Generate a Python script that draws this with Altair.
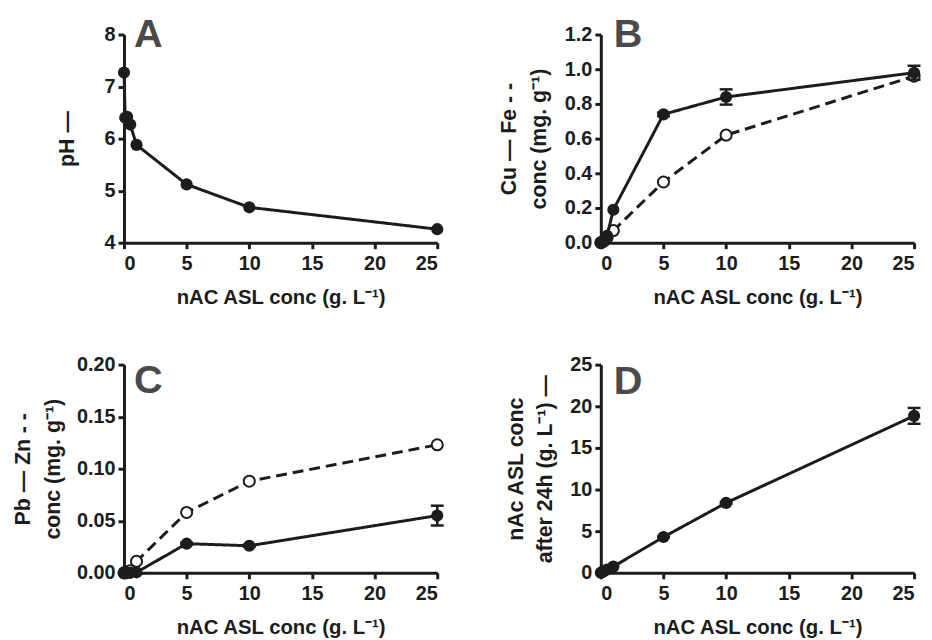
import altair as alt
import pandas as pd

# ---- data ----
conc = [0, 0.1, 0.25, 0.5, 1, 5, 10, 25]

ph = [7.27, 6.40, 6.42, 6.27, 5.88, 5.12, 4.68, 4.26]

cu = [0, 0.005, 0.01, 0.04, 0.19, 0.74, 0.84, 0.98]
cu_err = [0, 0, 0, 0, 0, 0.01, 0.044, 0.04]
fe = [0, 0.003, 0.01, 0.03, 0.07, 0.35, 0.62, 0.96]
fe_err = [0, 0, 0, 0, 0, 0, 0, 0]

pb = [0, 0, 0, 0, 0.0005, 0.028, 0.026, 0.055]
pb_err = [0, 0, 0, 0, 0, 0.001, 0.001, 0.0095]
zn = [0, 0, 0.001, 0.002, 0.011, 0.058, 0.088, 0.123]
zn_err = [0, 0, 0, 0, 0, 0, 0, 0]

nac = [0, 0.08, 0.2, 0.4, 0.75, 4.3, 8.4, 18.85]
nac_err = [0, 0, 0, 0, 0, 0.05, 0.1, 0.95]

x_ticks = [0, 5, 10, 15, 20, 25]
x_title = "nAC ASL conc (g. L\u207b\u00b9)"

INK = "#1c1c1c"
FONT = "Liberation Sans"
W, H = 316, 210


def series_layers(vals, errs, X, Y, open_marker, dashed):
    df = pd.DataFrame({"x": conc, "y": vals, "e": errs if errs else [0] * len(vals)})
    df["lo"] = df["y"] - df["e"]
    df["hi"] = df["y"] + df["e"]
    base = alt.Chart(df)
    line = base.mark_line(color=INK, strokeWidth=3,
                          strokeDash=[11, 6] if dashed else [1, 0]).encode(x=X("x"), y=Y("y"))
    layers = [line]
    if errs and any(e > 0 for e in errs):
        edf = base.transform_filter("datum.e > 0")
        rule = edf.mark_rule(color=INK, strokeWidth=2.5, opacity=1).encode(
            x=X("x"), y=Y("lo"), y2="hi:Q")
        cap_lo = edf.mark_tick(color=INK, thickness=2.5, size=13, opacity=1,
                               orient="horizontal").encode(x=X("x"), y=Y("lo"))
        cap_hi = edf.mark_tick(color=INK, thickness=2.5, size=13, opacity=1,
                               orient="horizontal").encode(x=X("x"), y=Y("hi"))
        layers += [rule, cap_lo, cap_hi]
    if open_marker:
        pts = base.mark_point(shape="circle", size=125, filled=True, fill="white",
                              stroke=INK, strokeWidth=2, opacity=1).encode(x=X("x"), y=Y("y"))
    else:
        pts = base.mark_point(shape="circle", size=150, filled=True, color=INK,
                              opacity=1).encode(x=X("x"), y=Y("y"))
    layers.append(pts)
    return layers


def letter(txt, dx, dy):
    return alt.Chart(pd.DataFrame({"t": [txt]})).mark_text(
        font=FONT, fontWeight="bold", fontSize=40, color="#4a4a4a",
        align="left", baseline="alphabetic").encode(
        text="t:N", x=alt.value(dx), y=alt.value(dy))


def panel(series, ytitle, ydomain, yticks, yfmt, lab, dx, dy, tpad=12):
    def X(f):
        return alt.X(f + ":Q", scale=alt.Scale(domain=[0, 25], nice=False),
                     axis=alt.Axis(values=x_ticks, title=x_title))

    def Y(f):
        return alt.Y(f + ":Q", scale=alt.Scale(domain=ydomain, nice=False),
                     axis=alt.Axis(values=yticks, format=yfmt, title=ytitle,
                                   titlePadding=tpad))
    layers = []
    for vals, errs, open_m, dashed in series:
        layers += series_layers(vals, errs, X, Y, open_m, dashed)
    layers.append(letter(lab, dx, dy))
    return alt.layer(*layers).properties(width=W, height=H)


pA = panel([(ph, None, False, False)], "pH \u2014", [4, 8], [4, 5, 6, 7, 8], "d",
           "A", 10, 13, tpad=26)
pB = panel([(fe, fe_err, True, True), (cu, cu_err, False, False)],
           ["Cu \u2014 Fe - -", "conc (mg. g\u207b\u00b9)"], [0, 1.2],
           [0, 0.2, 0.4, 0.6, 0.8, 1.0, 1.2], ".1f", "B", 13, 13, tpad=14)
pC = panel([(zn, zn_err, True, True), (pb, pb_err, False, False)],
           ["Pb \u2014 Zn - -", "conc (mg. g\u207b\u00b9)"], [0, 0.2],
           [0, 0.05, 0.10, 0.15, 0.20], ".2f", "C", 10, 29)
pD = panel([(nac, nac_err, False, False)],
           ["nAc ASL conc", "after 24h (g. L\u207b\u00b9) \u2014"], [0, 25],
           [0, 5, 10, 15, 20, 25], "d", "D", 13, 30, tpad=13)

chart = alt.concat(pA, pB, pC, pD, columns=2, spacing={"row": 47, "column": 52}).properties(
    padding={"left": 5, "top": 5, "right": 0, "bottom": 0}
).configure_view(stroke=None).configure_axis(
    grid=False,
    domainColor=INK, domainWidth=3,
    tickColor=INK, tickWidth=3, tickSize=6,
    labelFont=FONT, labelFontWeight="bold", labelFontSize=20, labelColor=INK,
    labelPadding=3, labelOverlap=False,
    titleFont=FONT, titleFontWeight="bold", titleFontSize=20.5, titleColor=INK,
    titleLineHeight=30,
).configure_axisX(titlePadding=14, labelPadding=5).configure_axisY(titleFontSize=21.5)

chart.save("out.html", embed_options={"renderer": "svg", "actions": False})
